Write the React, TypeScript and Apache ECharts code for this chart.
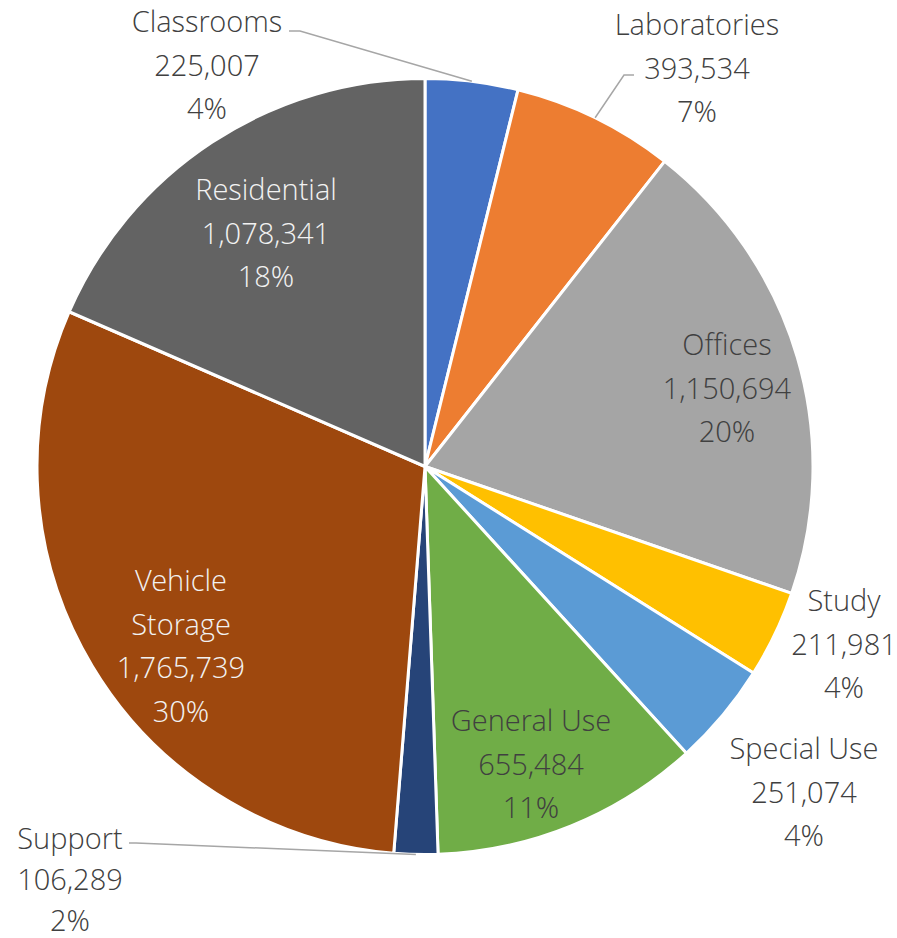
import React, { useEffect, useRef } from "react";
import * as echarts from "echarts";

const categories = [
  "Classrooms",
  "Laboratories",
  "Offices",
  "Study",
  "Special Use",
  "General Use",
  "Support",
  "Vehicle Storage",
  "Residential",
];
const values = [225007, 393534, 1150694, 211981, 251074, 655484, 106289, 1765739, 1078341];
const sliceColors = [
  "#4472C4",
  "#ED7D31",
  "#A5A5A5",
  "#FFC000",
  "#5B9BD5",
  "#70AD47",
  "#264478",
  "#9E480E",
  "#636363",
];
const labelCenters: number[][] = [
  [207, 64],
  [697, 67],
  [727, 387],
  [844, 643],
  [804, 791],
  [531, 763],
  [70, 878],
  [181, 645],
  [266, 232],
];
const lightText = [false, false, false, false, false, false, false, true, true];
const outsideLabel = [true, true, false, true, true, false, true, false, false];
// leader line: start at label side, short horizontal run, then to slice edge
const leaderAnchors: (number[][] | null)[] = [
  [[289, 31], [300, 31]],
  [[634, 75], [624, 75]],
  null,
  null,
  null,
  null,
  [[129, 843], [136, 843]],
  null,
  null,
];

const CX = 425;
const CY = 466.5;
const R = 388;

export default function App() {
  const ref = useRef<HTMLDivElement>(null);
  useEffect(() => {
    if (!ref.current) return;
    const chart = echarts.init(ref.current, null, { renderer: "svg" });
    const total = values.reduce((a, b) => a + b, 0);
    const data = categories.map((name, i) => ({
      name,
      value: values[i],
      itemStyle: { color: sliceColors[i] },
      label: {
        position: outsideLabel[i] ? "outside" : "inside",
        color: lightText[i] ? "#F2F2F2" : "#404040",
        lineHeight: i === 6 ? 41 : 43.5,
      },
    }));
    const graphics: any[] = [];
    let cum = 0;
    values.forEach((v, i) => {
      const mid = (cum + v / 2) / total;
      cum += v;
      const a = leaderAnchors[i];
      if (!a) return;
      const ang = mid * Math.PI * 2;
      const ex = CX + R * Math.sin(ang);
      const ey = CY - R * Math.cos(ang);
      graphics.push({
        type: "polyline",
        silent: true,
        z: 10,
        shape: { points: [a[0], a[1], [ex, ey]] },
        style: { stroke: "#A6A6A6", lineWidth: 1.5, fill: "none" },
      });
    });
    chart.setOption({
      animation: false,
      graphic: graphics,
      series: [
        {
          type: "pie",
          center: [CX, CY],
          radius: R,
          startAngle: 90,
          clockwise: true,
          avoidLabelOverlap: false,
          itemStyle: { borderColor: "#ffffff", borderWidth: 3 },
          label: {
            fontFamily: "'Open Sans Light', 'Open Sans', sans-serif",
            fontWeight: 300,
            fontSize: 29,
            lineHeight: 43.5,
            align: "center",
            formatter: (p: any) => {
              const nm = p.name === "Vehicle Storage" ? "Vehicle\nStorage" : p.name;
              const pct = Math.round((p.value / total) * 100);
              return `${nm}\n${Number(p.value).toLocaleString("en-US")}\n${pct}%`;
            },
          },
          labelLine: { show: false },
          labelLayout: (params: any) => {
            const c = labelCenters[params.dataIndex];
            return { x: c[0], y: c[1], align: "center", verticalAlign: "middle" };
          },
          data,
        },
      ],
    });
    return () => chart.dispose();
  }, []);
  return (
    <div
      ref={ref}
      style={{ position: "absolute", left: 0, top: 0, width: 897, height: 938, background: "#fff" }}
    />
  );
}
